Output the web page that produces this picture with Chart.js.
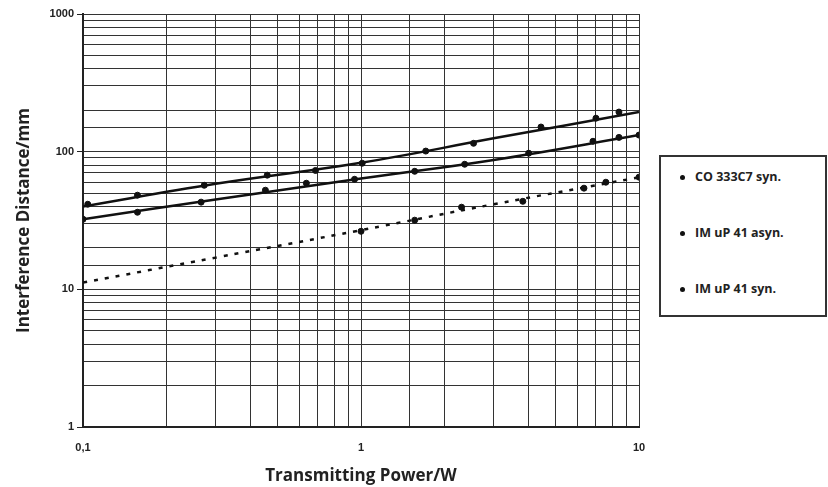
<!DOCTYPE html>
<html>
<head>
<meta charset="utf-8">
<script src="https://cdn.jsdelivr.net/npm/chart.js@4/dist/chart.umd.min.js"></script>
<style>
  html, body { margin: 0; padding: 0; background: #fff; }
  #wrap { position: relative; width: 828px; height: 487px; }
  #legend {
    position: absolute; left: 659px; top: 155px; width: 164px; height: 158px;
    border: 2px solid #333; background: #fff;
    font-family: "Open Sans", "Noto Sans", sans-serif; font-weight: bold; font-size: 12.5px; color: #222;
  }
  #legend div { position: absolute; left: 19px; }
  #legend span.dot { display: inline-block; width: 5px; height: 5px; border-radius: 50%; background: #111; margin-right: 10px; vertical-align: middle; }
</style>
</head>
<body>
<div id="wrap">
  <canvas id="canvas" width="828" height="487"></canvas>
  <div id="legend"></div>
</div>
<script>
// series names
var seriesNames = ["CO 333C7 syn.", "IM uP 41 asyn.", "IM uP 41 syn."];

// measured points (power in W, distance in mm)
var powerCO = [0.104, 0.157, 0.273, 0.46, 0.686, 1.01, 1.71, 2.54, 4.44, 7.0, 8.47];
var distCO = [41.5, 48.3, 57, 67.5, 73, 82.4, 101, 115, 151, 175, 194];

var powerAsyn = [0.1, 0.157, 0.266, 0.453, 0.636, 0.948, 1.56, 2.36, 4.01, 6.83, 8.47, 10];
var distAsyn = [32.3, 36.3, 43, 52.5, 59, 63, 72, 81, 97.5, 119, 127, 132];

var powerSyn = [1.0, 1.56, 2.3, 3.82, 6.34, 7.6, 10];
var distSyn = [26.4, 31.8, 39.5, 43.6, 54.3, 60, 65.3];

// trend lines
var curvePower = [0.1, 0.3, 1, 3, 10];
var curveCO = [40, 58.4, 83, 125, 194];
var curveAsyn = [32.3, 44.9, 63.8, 87, 132];
var curveSyn = [11.2, 17, 26.9, 41.5, 65];

// tick labels
var xTickLabels = { "0.1": "0,1", "1": "1", "10": "10" };
var yTickLabels = { "1": "1", "10": "10", "100": "100", "1000": "1000" };

function pairs(xs, ys) {
	var out = [];
	for (var i = 0; i < xs.length; i++) {
		out.push({ x: xs[i], y: ys[i] });
	}
	return out;
}

function isDecade(v) {
	var l = Math.log10(v);
	return Math.abs(l - Math.round(l)) < 1e-6;
}

function lineSet(ys, dashed) {
	return {
		type: 'line',
		data: pairs(curvePower, ys),
		borderColor: '#111',
		borderWidth: 2.5,
		borderDash: dashed ? [4, 7] : [],
		pointRadius: 0,
		tension: 0.4,
		fill: false
	};
}

function pointSet(xs, ys) {
	return {
		type: 'scatter',
		data: pairs(xs, ys),
		backgroundColor: '#111',
		borderColor: '#111',
		pointRadius: 3,
		pointHoverRadius: 3,
		showLine: false
	};
}

var tickFont = { family: "'Liberation Sans', Arial, sans-serif", size: 11, weight: 'bold' };
var titleFont = { family: "'Open Sans', 'Noto Sans', sans-serif", size: 17, weight: 'bold' };

var ctx = document.getElementById("canvas");
window.myChart = new Chart(ctx, {
	type: 'scatter',
	data: {
		datasets: [
			lineSet(curveCO, false),
			lineSet(curveAsyn, false),
			lineSet(curveSyn, true),
			pointSet(powerCO, distCO),
			pointSet(powerAsyn, distAsyn),
			pointSet(powerSyn, distSyn)
		]
	},
	options: {
		responsive: false,
		animation: false,
		layout: { padding: { top: 14, right: 189, left: 0, bottom: 0 } },
		plugins: { legend: { display: false }, tooltip: { enabled: false } },
		scales: {
			x: {
				type: 'logarithmic',
				min: 0.1,
				max: 10,
				afterFit: function(scale) { scale.height = 60; },
				border: { color: '#222', width: 2 },
				grid: { color: '#333', lineWidth: 1, drawTicks: false },
				ticks: {
					autoSkip: false,
					maxRotation: 0,
					padding: 14,
					color: '#222',
					font: tickFont,
					callback: function(v) { return isDecade(v) ? xTickLabels[String(Number(v))] : ''; }
				},
				title: { display: true, text: 'Transmitting Power/W', color: '#222', font: titleFont, padding: { top: 0, bottom: 1 } }
			},
			y: {
				type: 'logarithmic',
				min: 1,
				max: 1000,
				afterFit: function(scale) { scale.width = 83; },
				border: { color: '#222', width: 2 },
				grid: {
					color: '#333',
					lineWidth: 1,
					tickLength: 6,
					tickColor: function(c) { return c.tick && isDecade(c.tick.value) ? '#222' : 'rgba(0,0,0,0)'; }
				},
				ticks: {
					autoSkip: false,
					padding: 3,
					color: '#222',
					font: tickFont,
					callback: function(v) { return isDecade(v) ? yTickLabels[String(Number(v))] : ''; }
				},
				title: { display: true, text: 'Interference Distance/mm', color: '#222', font: titleFont, padding: { top: 14, bottom: 0 } }
			}
		}
	}
});

// legend box
var legend = document.getElementById("legend");
var legendTops = [20, 76, 132];
for (var i = 0; i < seriesNames.length; i++) {
	var row = document.createElement("div");
	row.style.top = (legendTops[i] - 9) + "px";
	row.innerHTML = '<span class="dot"></span>' + seriesNames[i];
	legend.appendChild(row);
}
</script>
</body>
</html>
